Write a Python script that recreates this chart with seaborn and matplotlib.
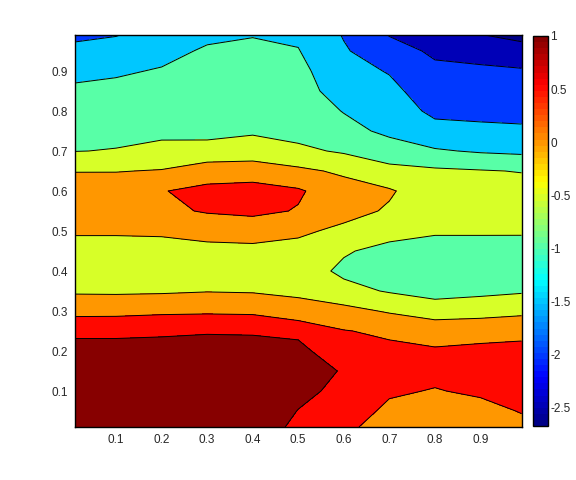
import numpy as np
import matplotlib
matplotlib.use('Agg')
import matplotlib.pyplot as plt
import seaborn as sns
from matplotlib.colors import Normalize, ListedColormap

# grid (x columns, y rows)
x_vals = [0.01, 0.1, 0.2, 0.3, 0.4, 0.5, 0.6, 0.7, 0.8, 0.9, 0.99]
y_vals = [0.01, 0.05, 0.10, 0.15, 0.20, 0.25, 0.30, 0.35, 0.40, 0.45, 0.50,
          0.55, 0.60, 0.65, 0.70, 0.75, 0.80, 0.85, 0.90, 0.95, 0.99]

z_x001 = [1.2, 1.2, 1.2, 1.18, 1.1, 0.94, 0.33, -0.06, -0.25, -0.2, 0.06, 0.3, 0.3, -0.02, -0.51, -0.65, -0.8, -0.94, -1.09, -1.37, -1.6]
z_x01 = [1.2, 1.22, 1.22, 1.2, 1.1, 0.94, 0.34, -0.07, -0.26, -0.2, 0.06, 0.32, 0.32, -0.02, -0.48, -0.62, -0.76, -0.9, -1.05, -1.3, -1.52]
z_x02 = [1.22, 1.25, 1.25, 1.22, 1.12, 0.95, 0.4, -0.06, -0.27, -0.2, 0.08, 0.4, 0.48, 0.03, -0.38, -0.6, -0.72, -0.84, -0.97, -1.12, -1.3]
z_x03 = [1.25, 1.28, 1.28, 1.25, 1.15, 0.97, 0.42, -0.02, -0.25, -0.15, 0.18, 0.54, 0.62, 0.27, -0.34, -0.63, -0.72, -0.8, -0.87, -0.95, -1.08]
z_x04 = [1.25, 1.28, 1.28, 1.25, 1.15, 0.96, 0.4, -0.04, -0.25, -0.12, 0.2, 0.61, 0.68, 0.27, -0.27, -0.56, -0.65, -0.72, -0.8, -0.9, -1.02]
z_x05 = [0.9, 0.99, 1.1, 1.12, 1.05, 0.96, 0.08, -0.04, -0.25, -0.15, 0.08, 0.47, 0.56, 0.1, -0.4, -0.66, -0.73, -0.8, -0.87, -0.98, -1.07]
z_x06 = [0.6, 0.7, 0.9, 0.98, 0.88, 0.52, 0.15, -0.35, -0.6, -0.45, -0.1, 0.15, 0.2, -0.08, -0.56, -0.85, -1.02, -1.22, -1.33, -1.45, -1.53]
z_x07 = [0.3, 0.42, 0.55, 0.65, 0.6, 0.42, -0.05, -0.54, -0.75, -0.65, -0.32, -0.05, 0.05, -0.35, -0.78, -1.1, -1.25, -1.38, -1.53, -1.8, -2.02]
z_x08 = [0.2, 0.3, 0.48, 0.6, 0.52, 0.42, -0.33, -0.62, -0.8, -0.75, -0.43, -0.3, -0.28, -0.42, -0.95, -1.35, -1.6, -1.75, -1.9, -2.08, -2.4]
z_x09 = [0.25, 0.38, 0.56, 0.64, 0.56, 0.4, -0.23, -0.6, -0.8, -0.75, -0.43, -0.3, -0.28, -0.47, -1.05, -1.4, -1.62, -1.78, -1.93, -2.15, -2.48]
z_x099 = [0.4, 0.52, 0.62, 0.65, 0.58, 0.42, -0.13, -0.55, -0.78, -0.72, -0.44, -0.3, -0.3, -0.52, -1.1, -1.42, -1.65, -1.8, -1.96, -2.25, -2.68]

levels = [-2.5, -2.0, -1.5, -1.0, -0.5, 0.0, 0.5, 1.0]
cbar_ticks = [-2.5, -2, -1.5, -1, -0.5, 0, 0.5, 1]
z_min, z_max = -2.676, 1.0

Z = np.column_stack([z_x001, z_x01, z_x02, z_x03, z_x04, z_x05,
                     z_x06, z_x07, z_x08, z_x09, z_x099])
X, Y = np.meshgrid(x_vals, y_vals)

sns.set_style('white')
plt.rcParams['font.family'] = ['Liberation Sans', 'DejaVu Sans']


def matlab_jet(n=64):
    # MATLAB flavour of jet (pure red / orange, unlike matplotlib's)
    t = (np.arange(n) + 0.5) / n
    r = np.clip(np.minimum(4 * t - 1.5, -4 * t + 4.5), 0, 1)
    g = np.clip(np.minimum(4 * t - 0.5, -4 * t + 3.5), 0, 1)
    b = np.clip(np.minimum(4 * t + 0.5, -4 * t + 2.5), 0, 1)
    return ListedColormap(np.column_stack([r, g, b]))


jet = matlab_jet(64)
norm = Normalize(z_min, z_max)
band_colors = [jet(0.0)] + [jet(norm(lv)) for lv in levels[:-1]] + [jet(0.999)]
fill_levels = [-10] + levels + [10]

fig = plt.figure(figsize=(5.76, 4.8), dpi=100)
ax = fig.add_axes([75 / 576, 53 / 480, 446.5 / 576, 392 / 480])
ax.contourf(X, Y, Z, levels=fill_levels, colors=band_colors)
ax.contour(X, Y, Z, levels=levels, colors='black', linewidths=0.7,
           linestyles='solid')

ax.set_xlim(0.01, 0.99)
ax.set_ylim(0.01, 0.99)
ax.set_xticks(np.arange(0.1, 0.95, 0.1))
ax.set_yticks(np.arange(0.1, 0.95, 0.1))
ax.set_xticklabels(['0.1', '0.2', '0.3', '0.4', '0.5', '0.6', '0.7', '0.8', '0.9'])
ax.set_yticklabels(['0.1', '0.2', '0.3', '0.4', '0.5', '0.6', '0.7', '0.8', '0.9'])
ax.tick_params(direction='in', length=4, width=0.8, labelsize=8.5,
               top=True, right=True, bottom=True, left=True, pad=5)
for sp in ax.spines.values():
    sp.set_visible(True)
    sp.set_color('black')
    sp.set_linewidth(1.0)

cax = fig.add_axes([532.5 / 576, 54 / 480, 15 / 576, 390 / 480])
sm = plt.cm.ScalarMappable(norm=norm, cmap=jet)
cb = fig.colorbar(sm, cax=cax, ticks=cbar_ticks)
cb.ax.set_yticklabels(['-2.5', '-2', '-1.5', '-1', '-0.5', '0', '0.5', '1'])
cb.ax.tick_params(direction='in', length=4, width=0.8, labelsize=8.5,
                  left=True, right=True, pad=2)
cb.outline.set_linewidth(1.0)
cb.outline.set_edgecolor('black')

fig.savefig('out.png', dpi=100, facecolor='white')
